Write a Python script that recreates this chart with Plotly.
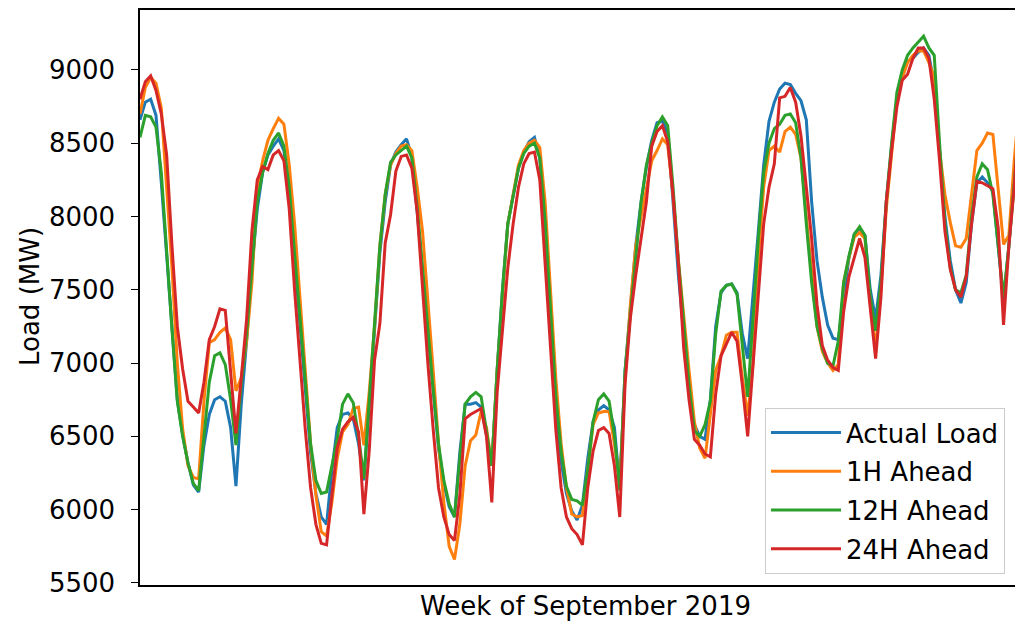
import plotly.graph_objects as go

hours = list(range(167))

actual_load = [
    8660, 8780, 8800, 8690, 8230, 7730, 7240, 6750, 6510, 6320, 6170, 6120, 6440, 6650, 6750, 6770, 6740, 6560, 6160, 6720, 7150, 7650, 8050, 8300,
    8420, 8480, 8530, 8450, 8150, 7700, 7280, 6840, 6390, 6110, 5950, 5900, 6270, 6560, 6650, 6660, 6620, 6450, 6200, 6700, 7200, 7750, 8100, 8350,
    8440, 8490, 8530, 8410, 8030, 7630, 7210, 6790, 6420, 6180, 6020, 5950, 6390, 6720, 6720, 6730, 6700, 6510, 6300, 6950, 7500, 7950, 8150, 8330,
    8440, 8510, 8540, 8400, 7950, 7300, 6700, 6330, 6110, 5990, 5930, 6030, 6350, 6600, 6680, 6710, 6680, 6560, 6150, 6950, 7400, 7800, 8100, 8340,
    8520, 8640, 8650, 8570, 8100, 7600, 7200, 6800, 6580, 6500, 6480, 6750, 7250, 7480, 7530, 7540, 7480, 7200, 7030, 7450, 7900, 8350, 8650, 8780,
    8870, 8910, 8900, 8840, 8790, 8660, 8100, 7700, 7450, 7260, 7170, 7160, 7450, 7720, 7880, 7920, 7870, 7500, 7300, 7600, 8100, 8480, 8800, 8950,
    9060, 9080, 9120, 9150, 9100, 8900, 8450, 8000, 7700, 7500, 7410, 7550, 7950, 8230, 8270, 8230, 8170, 7800, 7420, 7800, 8250, 8700, 9000,
]

ahead_1h = [
    8700, 8880, 8950, 8910, 8740, 8200, 7650, 7000, 6550, 6300, 6220, 6210, 6740, 7140, 7160, 7210, 7240, 7160, 6810, 6900, 7150, 7550, 8200, 8380,
    8520, 8600, 8670, 8630, 8350, 7950, 7450, 6950, 6450, 6100, 5850, 5820, 6050, 6350, 6530, 6580, 6690, 6700, 6440, 6800, 7250, 7800, 8150, 8350,
    8430, 8480, 8490, 8450, 8200, 7900, 7450, 6950, 6450, 6050, 5750, 5660, 5900, 6300, 6470, 6510, 6670, 6560, 6300, 6950, 7450, 7950, 8150, 8350,
    8450, 8500, 8520, 8470, 8100, 7500, 6900, 6450, 6150, 5970, 5950, 5960, 6250, 6580, 6660, 6670, 6670, 6450, 6180, 6900, 7400, 7800, 8000, 8200,
    8380, 8450, 8530, 8490, 8150, 7700, 7300, 6950, 6600, 6420, 6350, 6650, 6950, 7050, 7190, 7210, 7210, 6900, 6640, 7000, 7700, 8200, 8450, 8480,
    8440, 8580, 8610, 8560, 8400, 8000, 7600, 7250, 7080, 7000, 6950, 6990, 7550, 7720, 7860, 7890, 7850, 7400, 7100, 7500, 8050, 8450, 8800, 8950,
    9050, 9100, 9130, 9130, 9050, 8950, 8450, 8150, 7960, 7800, 7790, 7850, 8150, 8450, 8500, 8570, 8560, 8200, 7810, 7870, 8380, 8800, 9000,
]

ahead_12h = [
    8540, 8690, 8680, 8610, 8300, 7750, 7230, 6740, 6500, 6320, 6180, 6130, 6520, 6870, 7050, 7070, 6990, 6750, 6440, 6860, 7200, 7650, 8100, 8300,
    8430, 8520, 8570, 8480, 8200, 7750, 7320, 6900, 6450, 6200, 6110, 6120, 6300, 6480, 6720, 6790, 6730, 6500, 6210, 6750, 7250, 7800, 8150, 8370,
    8420, 8450, 8480, 8400, 8060, 7650, 7230, 6820, 6450, 6200, 6040, 5950, 6350, 6720, 6770, 6800, 6770, 6550, 6300, 6950, 7500, 7950, 8150, 8330,
    8430, 8480, 8500, 8400, 7970, 7350, 6780, 6400, 6160, 6070, 6060, 6030, 6270, 6600, 6750, 6790, 6740, 6510, 6130, 6950, 7350, 7750, 8100, 8350,
    8500, 8620, 8680, 8620, 8200, 7700, 7250, 6850, 6540, 6500, 6580, 6740, 7200, 7490, 7530, 7540, 7470, 7120, 6770, 7300, 7850, 8300, 8500, 8600,
    8630, 8690, 8700, 8640, 8400, 7950, 7550, 7250, 7100, 7000, 6980, 7150, 7550, 7730, 7880, 7930, 7870, 7450, 7220, 7550, 8100, 8500, 8850, 9000,
    9100, 9150, 9190, 9230, 9150, 9100, 8500, 7950, 7650, 7500, 7480, 7600, 8000, 8270, 8360, 8320, 8150, 7800, 7450, 7800, 8250, 8650, 8950,
]

ahead_24h = [
    8800, 8920, 8960, 8860, 8700, 8420, 7800, 7250, 6960, 6740, 6700, 6660, 6870, 7160, 7250, 7370, 7360, 6930, 6520, 6900, 7300, 7900, 8250, 8340,
    8320, 8420, 8450, 8380, 8050, 7500, 7000, 6550, 6150, 5900, 5770, 5760, 6100, 6420, 6550, 6600, 6630, 6530, 5970, 6400, 7020, 7270, 7820, 8010,
    8310, 8410, 8420, 8330, 8030, 7500, 7000, 6550, 6150, 5950, 5830, 5790, 6100, 6620, 6650, 6670, 6690, 6500, 6050, 6800, 7200, 7650, 7950, 8200,
    8360, 8430, 8440, 8250, 7680, 7100, 6550, 6150, 5950, 5870, 5830, 5760, 6150, 6400, 6540, 6560, 6520, 6300, 5950, 6860, 7310, 7600, 7850, 8100,
    8480, 8580, 8620, 8510, 8150, 7680, 7100, 6750, 6480, 6440, 6380, 6360, 6790, 7050, 7130, 7210, 7150, 6850, 6500, 6980, 7500, 7950, 8200, 8360,
    8810, 8820, 8880, 8780, 8550, 8200, 7850, 7400, 7120, 7020, 6970, 6950, 7350, 7590, 7730, 7850, 7720, 7350, 7030, 7450, 8100, 8450, 8750, 8930,
    8970, 9080, 9150, 9150, 9080, 8800, 8380, 7900, 7640, 7500, 7450, 7590, 7950, 8240, 8230, 8210, 8190, 7920, 7260, 7800, 8200, 8750, 9050,
]

series_names = ["Actual Load", "1H Ahead", "12H Ahead", "24H Ahead"]
series_values = [actual_load, ahead_1h, ahead_12h, ahead_24h]
series_colors = ["#1f77b4", "#ff7f0e", "#2ca02c", "#d62728"]

y_tick_values = [5500, 6000, 6500, 7000, 7500, 8000, 8500, 9000]
y_tick_labels = ["5500", "6000", "6500", "7000", "7500", "8000", "8500", "9000"]

x_title = "Week of September 2019"
y_title = "Load (MW)"

# the page body has an 8 px margin: the figure starts at (8, 8) in the window
OFF = 8
W, H = 1015, 617
L, R, T, B = 132, 0, 2, 40
plot_w = W - L - R
plot_h = H - T - B

FONT = "DejaVu Sans"
FS = 26

fig = go.Figure()
for i, (name, vals, col) in enumerate(zip(series_names, series_values, series_colors)):
    fig.add_trace(go.Scatter(
        x=hours, y=vals, mode="lines", name=name,
        line=dict(color=col, width=3),
        legendgroup=f"g{i}",
    ))


def px_x(px):
    return (px - OFF - L) / plot_w


def px_y(py):
    return (H - B - (py - OFF)) / plot_h


fig.update_layout(
    width=W, height=H,
    margin=dict(l=L, r=R, t=T, b=B, pad=0, autoexpand=False),
    paper_bgcolor="white", plot_bgcolor="white",
    font=dict(family=FONT, size=FS, color="black"),
    showlegend=True,
    legend=dict(
        x=px_x(765), y=px_y(408), xanchor="left", yanchor="top",
        bgcolor="rgba(255,255,255,0.8)", bordercolor="#cccccc", borderwidth=1,
        font=dict(family=FONT, size=FS, color="black"),
        tracegroupgap=2, itemwidth=70,
    ),
    xaxis=dict(
        range=[0, 165.65], showgrid=False, zeroline=False,
        showticklabels=False, ticks="", automargin=False,
        showline=True, linecolor="black", linewidth=1.5, mirror=True,
    ),
    yaxis=dict(
        range=[5486, 9409], showgrid=False, zeroline=False, automargin=False,
        tickmode="array", tickvals=y_tick_values, ticktext=y_tick_labels,
        ticks="outside", ticklen=7, tickwidth=1.3, tickcolor="black",
        showline=True, linecolor="black", linewidth=1.5, mirror=False,
        ticklabelstandoff=11,
        tickfont=dict(family=FONT, size=FS, color="black"),
    ),
    annotations=[
        dict(text=x_title, xref="paper", yref="paper", x=px_x(585), y=px_y(606),
             xanchor="center", yanchor="middle", showarrow=False,
             font=dict(family=FONT, size=FS, color="black")),
        dict(text=y_title, xref="paper", yref="paper", x=px_x(30), y=px_y(297),
             xanchor="center", yanchor="middle", showarrow=False, textangle=-90,
             font=dict(family=FONT, size=FS, color="black")),
    ],
)

fig.write_html("out.html")
